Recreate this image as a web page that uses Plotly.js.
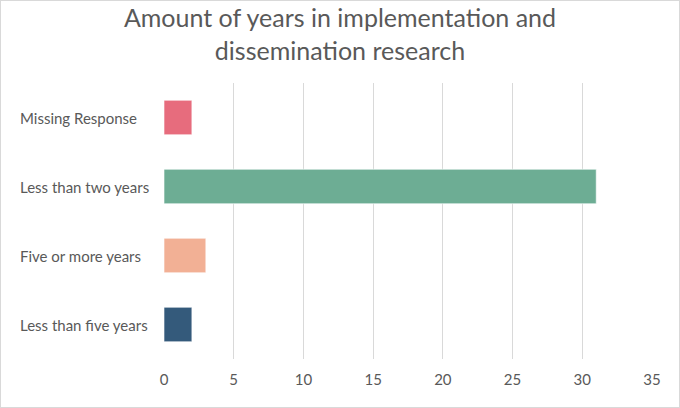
<!DOCTYPE html>
<html><head><meta charset="utf-8">
<script src="https://cdn.plot.ly/plotly-3.0.1.min.js"></script>
<style>html,body{margin:0;padding:0;background:#fff}#c{width:678px;height:406px;border:1px solid #d9d9d9}</style>
</head><body><div id="c"></div>
<script>
const categories = ["Less than five years", "Five or more years", "Less than two years", "Missing Response"];
const values = [2, 3, 31, 2];
const colors = ["#345a7b", "#f2b095", "#6dad94", "#e76c7d"];
const xTicks = [0, 5, 10, 15, 20, 25, 30, 35];
const titleText = "Amount of years in implementation and<br>dissemination research";

const font = "Lato, 'Open Sans', sans-serif";
const trace = {
  type: "bar", orientation: "h", x: values, y: categories,
  marker: {color: colors, line: {color: "rgba(255,255,255,0.6)", width: 1}},
  width: 0.5, hoverinfo: "none"
};
const annotations = categories.map(c => ({
  text: c, xref: "paper", yref: "y", x: -0.2995, y: c, xanchor: "left", yanchor: "middle",
  showarrow: false, font: {family: font, size: 15, color: "#595959"}
}));
const layout = {
  width: 678, height: 406,
  margin: {l: 163, r: 27, t: 82, b: 48},
  paper_bgcolor: "#fff", plot_bgcolor: "#fff",
  title: {text: titleText, x: 0.5, xanchor: "center", yref: "container", y: 0.935, yanchor: "middle",
          font: {family: font, size: 25, color: "#595959"}},
  xaxis: {range: [0, 35], tickvals: xTicks, showgrid: true, gridcolor: "#d9d9d9", gridwidth: 1,
          zeroline: false, showline: false, ticks: "outside", ticklen: 7, tickcolor: "rgba(0,0,0,0)",
          tickfont: {family: font, size: 15, color: "#595959"}},
  yaxis: {type: "category", categoryorder: "array", categoryarray: categories, showticklabels: false,
          showgrid: false, zeroline: false, showline: false, ticks: "", range: [-0.5, 3.5]},
  annotations: annotations, showlegend: false
};
Plotly.newPlot("c", [trace], layout, {displayModeBar: false, staticPlot: true});
</script></body></html>
